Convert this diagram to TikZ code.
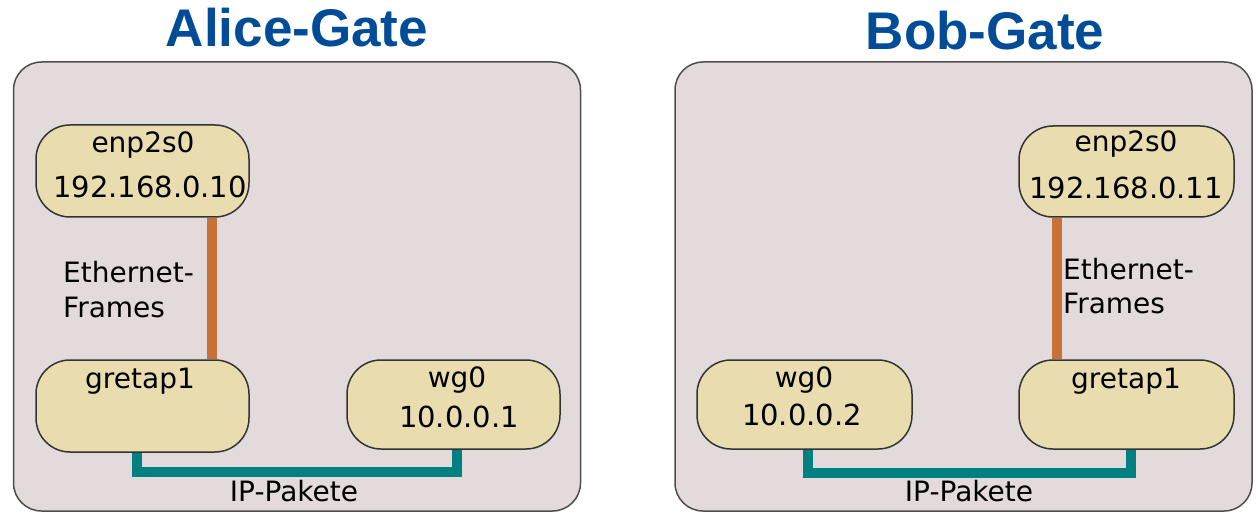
\documentclass[tikz,border=0pt]{standalone}
\usepackage{fontspec}
\setmainfont{DejaVu Sans}
\newfontfamily\titlefont{Liberation Sans}
\definecolor{gatebg}{HTML}{E3DBDB}
\definecolor{gateline}{HTML}{4D4D4D}
\definecolor{ifbg}{HTML}{E9DDAF}
\definecolor{ifline}{HTML}{333333}
\definecolor{ethcol}{HTML}{C87137}
\definecolor{ipcol}{HTML}{008080}
\definecolor{titleblue}{HTML}{004C97}
\tikzset{
  gatebox/.style={draw=gateline, fill=gatebg, line width=1.5pt, rounded corners=28pt, inner sep=0pt},
  ifbox/.style={draw=ifline, fill=ifbg, line width=1.5pt, rounded corners=34pt, inner sep=0pt},
  title/.style={font=\titlefont\bfseries\fontsize{53}{60}\selectfont, text=titleblue, anchor=base, inner sep=0pt},
  lbl/.style={font=\fontsize{28}{34}\selectfont, anchor=base, inner sep=0pt},
  iplbl/.style={font=\fontsize{29}{34}\selectfont, anchor=base, inner sep=0pt},
  lbll/.style={font=\fontsize{28}{34}\selectfont, anchor=base west, inner sep=0pt},
  eth/.style={draw=ethcol, line width=10pt},
  ip/.style={draw=ipcol, line width=10pt, line join=miter},
}
\begin{document}
\begin{tikzpicture}[x=1pt,y=-1pt]
\useasboundingbox (0,0) rectangle (1258,513);
% titles
\node[title] (tA) at (297,47) {Alice-Gate};
\node[title] (tB) at (985,50) {Bob-Gate};
% gate boxes
\node[gatebox, minimum width=567pt, minimum height=449pt] (gA) at (297,286.5) {};
\node[gatebox, minimum width=577pt, minimum height=449pt] (gB) at (963.5,286.5) {};
% connector coordinates
\coordinate (aeth) at (212,0);
\coordinate (atl) at (137,472);
\coordinate (atr) at (457,472);
\coordinate (beth) at (1057,0);
\coordinate (btl) at (808,473);
\coordinate (btr) at (1131,473);
% Alice interface boxes
\node[ifbox, minimum width=213pt, minimum height=92pt] (aenp) at (142.5,171) {};
\node[ifbox, minimum width=213pt, minimum height=92pt] (agre) at (142.5,406) {};
\node[ifbox, minimum width=213pt, minimum height=89pt] (awg) at (453.5,404.5) {};
% Bob interface boxes
\node[ifbox, minimum width=215pt, minimum height=91pt] (benp) at (1126.5,171.5) {};
\node[ifbox, minimum width=215pt, minimum height=89pt] (bgre) at (1126.5,404.5) {};
\node[ifbox, minimum width=215pt, minimum height=89pt] (bwg) at (804.5,404.5) {};
% connectors
\draw[eth] (aenp.south -| aeth) -- (agre.north -| aeth);
\draw[ip] (agre.south -| atl) -- (atl) -- (atr) -- (awg.south -| atr);
\draw[eth] (benp.south -| beth) -- (bgre.north -| beth);
\draw[ip] (bwg.south -| btl) -- (btl) -- (btr) -- (bgre.south -| btr);
% Alice labels
\node[lbl] (aenpn) at (143,153) {enp2s0};
\node[iplbl] (aenpip) at (150,197) {192.168.0.10};
\node[lbl] (agren) at (140,388) {gretap1};
\node[lbl] (awgn) at (457,387) {wg0};
\node[iplbl] (awgip) at (459,427) {10.0.0.1};
\node[lbll] (aeth1) at (63,282) {Ethernet-};
\node[lbll] (aeth2) at (63,317) {Frames};
\node[lbl] (aipl) at (294,501) {IP-Pakete};
% Bob labels
\node[lbl] (benpn) at (1126,152) {enp2s0};
\node[iplbl] (benpip) at (1126,199) {192.168.0.11};
\node[lbl] (bgren) at (1126,388) {gretap1};
\node[lbl] (bwgn) at (804,387) {wg0};
\node[iplbl] (bwgip) at (802,425) {10.0.0.2};
\node[lbll] (beth1) at (1063,279) {Ethernet-};
\node[lbll] (beth2) at (1063,313) {Frames};
\node[lbl] (bipl) at (969,501) {IP-Pakete};
\end{tikzpicture}
\end{document}
